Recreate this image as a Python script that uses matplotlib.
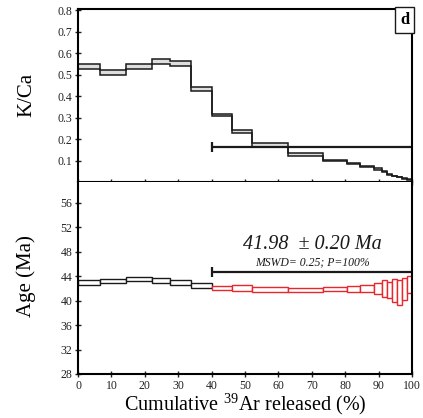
#!/usr/bin/env python3
"""Step-heating spectrum: K/Ca (top) and apparent age (bottom) vs cumulative 39Ar."""

import matplotlib

matplotlib.use("Agg")
import matplotlib.pyplot as plt

# ---------------------------------------------------------------------------
# Data
# ---------------------------------------------------------------------------
# step boundaries, cumulative 39Ar released (%)
edges = [0, 6.6, 14.3, 22.1, 27.6, 33.8, 40.2, 46.2, 52.2, 63.0, 73.3,
         80.4, 84.5, 88.5, 91.0, 92.6, 94.0, 95.5, 97.0, 98.5, 100]

kca_hi = [0.551, 0.520, 0.547, 0.571, 0.562, 0.442, 0.318, 0.240, 0.182, 0.133,
          0.103, 0.090, 0.075, 0.063, 0.051, 0.037, 0.030, 0.025, 0.019, 0.013]
kca_lo = [0.528, 0.497, 0.525, 0.551, 0.539, 0.423, 0.305, 0.227, 0.165, 0.119,
          0.097, 0.085, 0.070, 0.058, 0.046, 0.032, 0.026, 0.021, 0.015, 0.009]

age_hi = [43.4, 43.6, 43.9, 43.7, 43.4, 42.8, 42.4, 42.5, 42.2, 42.1,
          42.2, 42.4, 42.5, 42.8, 43.35, 43.1, 43.6, 43.35, 43.7, 44.05]
age_lo = [42.6, 42.8, 43.2, 42.9, 42.6, 42.0, 41.7, 41.6, 41.35, 41.35,
          41.6, 41.45, 41.35, 41.0, 40.6, 40.35, 39.8, 39.3, 40.1, 41.2]

plateau_first = 6          # index of the first plateau step
plateau_start = 40.2
plateau_end = 100
plateau_kca = 0.162
plateau_bar_age = 44.7
plateau_age = 41.98
plateau_err = 0.20
mswd = 0.25
prob = 100

# ---------------------------------------------------------------------------
# Style
# ---------------------------------------------------------------------------
plt.rcParams.update(
    {
        "font.family": "serif",
        "font.serif": ["Liberation Serif", "DejaVu Serif"],
        "mathtext.fontset": "stix",
        "axes.linewidth": 1.5,
        "xtick.labelsize": 8.5,
        "ytick.labelsize": 8.5,
        "xtick.color": "#222222",
        "ytick.color": "#222222",
    }
)
INK = "#1a1a1a"
RED = "#e8262b"


def _ticks(ax):
    ax.tick_params(direction="inout", length=4, width=1.0, pad=2)


fig = plt.figure(figsize=(4.23, 4.18), dpi=100)
ax_k = fig.add_axes([0.1844, 0.5646, 0.7896, 0.4139])
ax_a = fig.add_axes([0.1844, 0.1053, 0.7896, 0.4593])

# --- K/Ca panel -------------------------------------------------------------
ax_k.fill_between(edges, kca_lo + [kca_lo[-1]], kca_hi + [kca_hi[-1]],
                  step="post", color="#dedede", lw=0)
ax_k.stairs(kca_hi, edges, baseline=None, color=INK, lw=1.1)
ax_k.stairs(kca_lo, edges, baseline=None, color=INK, lw=1.1)
ax_k.hlines(plateau_kca, plateau_start, plateau_end, color=INK, lw=1.6)
ax_k.plot([plateau_start], [plateau_kca], marker="|", ms=7, mew=1.6, color=INK)

ax_k.set_xlim(0, 100)
ax_k.set_ylim(0, 0.805)
ax_k.set_yticks([0.1, 0.2, 0.3, 0.4, 0.5, 0.6, 0.7, 0.8])
ax_k.set_xticks(range(0, 101, 10))
ax_k.tick_params(axis="x", labelbottom=False)
_ticks(ax_k)
ax_k.set_ylabel("K/Ca", fontsize=15)
ax_k.yaxis.set_label_coords(-0.125, 0.506)
ax_k.text(0.992, 0.982, "d", transform=ax_k.transAxes, ha="right", va="top",
          fontsize=12, fontweight="bold",
          bbox=dict(boxstyle="square,pad=0.3", fc="white", ec=INK, lw=1.0))

# --- Age panel ----------------------------------------------------------------
widths = [b - a for a, b in zip(edges[:-1], edges[1:])]
heights = [h - l for h, l in zip(age_hi, age_lo)]
colors = [INK if i < plateau_first else RED for i in range(len(age_hi))]
ax_a.bar(edges[:-1], heights, width=widths, bottom=age_lo, align="edge",
         facecolor="white", edgecolor=colors, lw=1.0)
ax_a.hlines(plateau_bar_age, plateau_start, plateau_end, color=INK, lw=1.6)
ax_a.plot([plateau_start], [plateau_bar_age], marker="|", ms=7, mew=1.6, color=INK)
ax_a.text(70.3, 49.1, f"{plateau_age:.2f}  \u00b1 {plateau_err:.2f} Ma",
          ha="center", va="center", fontsize=14.5, style="italic", color=INK)
ax_a.text(70.3, 46.3, f"MSWD= {mswd:.2f}; P={prob}%",
          ha="center", va="center", fontsize=8.5, style="italic", color=INK)

ax_a.set_xlim(0, 100)
ax_a.set_ylim(28, 59.4)
ax_a.set_yticks(range(28, 57, 4))
ax_a.set_xticks(range(0, 101, 10))
ax_a.spines["top"].set_visible(False)
_ticks(ax_a)
ax_a.set_ylabel("Age (Ma)", fontsize=15)
ax_a.yaxis.set_label_coords(-0.125, 0.51)
ax_a.set_xlabel("Cumulative $^{\\mathregular{39}}$Ar released (%)", fontsize=14.5, labelpad=0)

fig.savefig("out.png", dpi=100)
